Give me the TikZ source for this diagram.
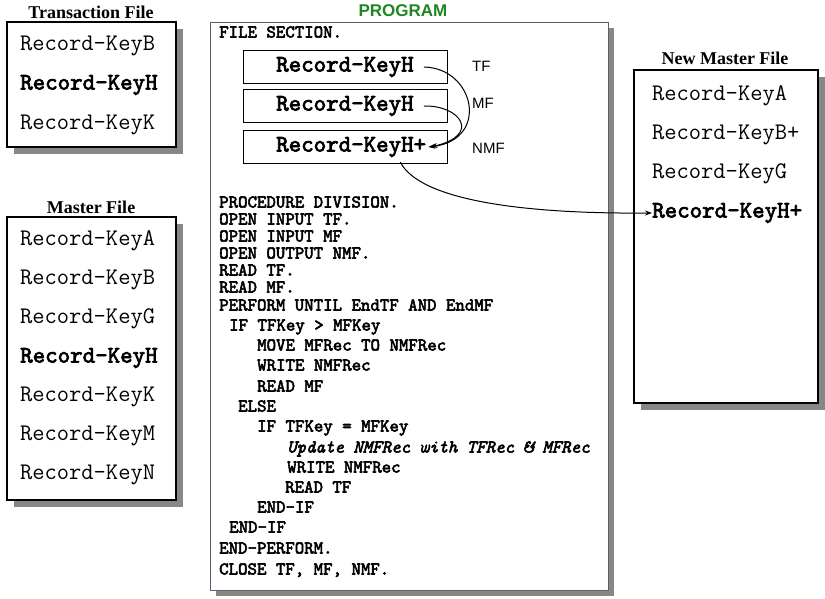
\documentclass[tikz,border=0pt]{standalone}
\usepackage{fontspec}
\setmainfont{Liberation Serif}
\setsansfont{Liberation Sans}
\newfontfamily\heavymono{lmmono10-regular}[Extension=.otf, FakeBold=3, ItalicFont=lmmono10-italic]
\usetikzlibrary{arrows.meta}
\definecolor{shadowgray}{RGB}{135,135,135}
\definecolor{progframe}{RGB}{85,98,112}
\definecolor{proggreen}{RGB}{30,135,35}

\begin{document}
\begin{tikzpicture}[x=1pt, y=-1pt,
  rec/.style={anchor=west, inner sep=0pt, font=\fontsize{23.8}{24}\selectfont\ttfamily},
  boldrec/.style={rec, font=\fontsize{23.8}{24}\selectfont\heavymono},
  code/.style={anchor=west, inner sep=0pt, text height=10pt, text depth=1pt,
    font=\fontsize{18}{18}\selectfont\heavymono},
  title/.style={inner sep=0pt, font=\fontsize{18}{18}\selectfont\bfseries},
  lbl/.style={anchor=west, inner sep=0pt, font=\fontsize{15}{15}\selectfont\sffamily},
  filebox/.style={draw=black, line width=1.2pt, fill=white},
  shade/.style={fill=shadowgray, draw=none},
  link/.style={-{Stealth[length=7pt,width=5pt]}, line width=1pt}]
  \useasboundingbox (0,0) rectangle (825,598);

  % Transaction File
  \node[title] (ttitle) at (91,12) {Transaction File};
  \fill[shade] (14,29) rectangle (183,154);
  \draw[filebox] (7,22) rectangle (176,147);
  \foreach \k/\yy/\s [count=\i] in {B/46/rec, H/85/boldrec, K/125/rec}
    \node[\s] (t\i) at (20,\yy) {Record-Key\k};

  % Master File
  \node[title] (mtitle) at (91,207) {Master File};
  \fill[shade] (14,224) rectangle (183,507);
  \draw[filebox] (7,217) rectangle (176,500);
  \foreach \k/\yy/\s [count=\i] in {A/241/rec, B/280/rec, G/319/rec,
      H/358/boldrec, K/397/rec, M/436/rec, N/475/rec}
    \node[\s] (m\i) at (20,\yy) {Record-Key\k};

  % New Master File
  \node[title] (ntitle) at (725,58) {New Master File};
  \fill[shade] (641,77) rectangle (825,410);
  \draw[filebox] (634,70) rectangle (818,403);
  \foreach \k/\yy/\s [count=\i] in {A/96/rec, B+/135/rec, G/174/rec, H+/213/boldrec}
    \node[\s] (nm\i) at (652,\yy) {Record-Key\k};

  % Program
  \node[inner sep=0pt, text=proggreen, font=\fontsize{17}{17}\selectfont\sffamily\bfseries] (ptitle) at (403,11) {PROGRAM};
  \fill[shade] (216,28) rectangle (614,596);
  \draw[progframe, line width=1pt, fill=white] (210,22) rectangle (608,590);

  % record buffers
  \draw[line width=1pt] (243,50) rectangle (447,83);
  \draw[line width=1pt] (243,89) rectangle (447,122);
  \draw[line width=1pt] (243,130) rectangle (447,163);
  \node[boldrec] (p1) at (276,67) {Record-KeyH};
  \node[boldrec] (p2) at (276,106) {Record-KeyH};
  \node[boldrec] (p3) at (276,147) {Record-KeyH+};
  \node[lbl] (ltf) at (472,66) {TF};
  \node[lbl] (lmf) at (472,103) {MF};
  \node[lbl] (lnmf) at (472,148) {NMF};

  % code lines
  \foreach \xx/\yy/\txt [count=\i] in {
      219/33/{FILE SECTION.},
      219/203/{PROCEDURE DIVISION.},
      219/220/{OPEN INPUT TF.},
      219/237/{OPEN INPUT MF},
      219/254/{OPEN OUTPUT NMF.},
      219/271/{READ TF.},
      219/288/{READ MF.},
      219/306/{PERFORM UNTIL EndTF AND EndMF},
      229/326/{IF TFKey > MFKey},
      257/346/{MOVE MFRec TO NMFRec},
      257/366/{WRITE NMFRec},
      257/387/{READ MF},
      238/407/{ELSE},
      257/427/{IF TFKey = MFKey},
      287/448/{\itshape Update NMFRec with TFRec \& MFRec},
      287/468/{WRITE NMFRec},
      285/488/{READ TF},
      257/508/{END-IF},
      229/528/{END-IF},
      219/549/{END-PERFORM.},
      219/570/{CLOSE TF, MF, NMF.}}
    \node[code] (c\i) at (\xx,\yy) {\txt};

  % connectors
  \draw[link] ([xshift=10pt]p1.east) .. controls (475,68) and (490,140) .. ([xshift=2pt]p3.east);
  \draw[link] ([xshift=10pt]p2.east) .. controls (460,105) and (482,135) .. ([xshift=4pt]p3.east);
  \draw[link] ([xshift=-26pt,yshift=-5pt]p3.south east) .. controls (420,200) and (520,212) .. (620,213) -- (nm4.west);
\end{tikzpicture}
\end{document}
